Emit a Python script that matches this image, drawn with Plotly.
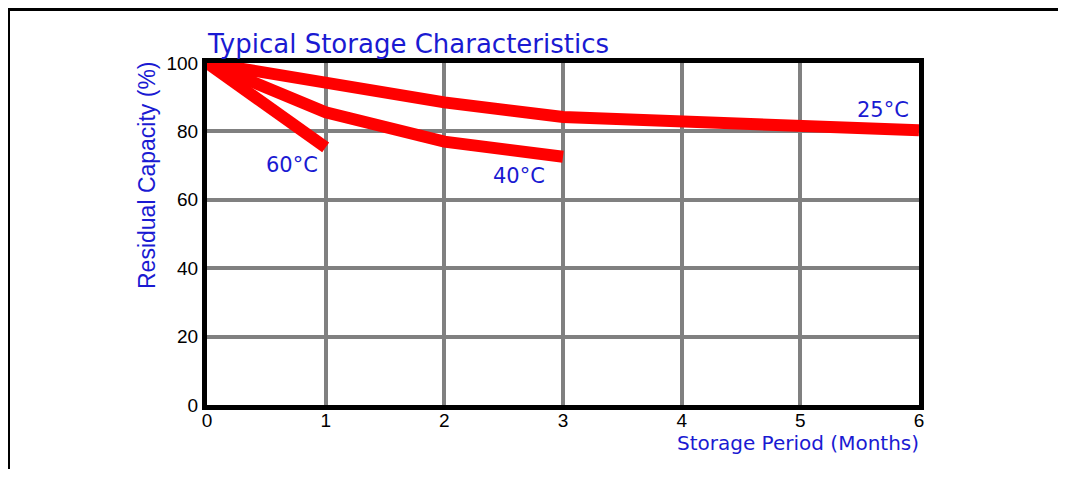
import plotly.graph_objects as go

months = [0, 1, 2, 3, 4, 5, 6]
cap_25 = [100, 94.2, 88.5, 84.2, 82.8, 81.4, 80.3]
months_40 = [0, 1, 2, 3]
cap_40 = [100, 85.6, 77.0, 72.6]
months_60 = [0, 1]
cap_60 = [100, 75.3]

x_ticks = [0, 1, 2, 3, 4, 5, 6]
y_ticks = [0, 20, 40, 60, 80, 100]

series_labels = ["25°C", "40°C", "60°C"]

title_text = "Typical Storage Characteristics"
x_title = "Storage Period (Months)"
y_title = "Residual Capacity (%)"

RED = "#ff0000"
BLUE = "#1a1ad2"
FONT = "DejaVu Sans"
TICKFONT = "Liberation Sans"

# page body has an 8px margin; work in reference pixel coords shifted by 8
OFF = 8
W, H = 1066 - 2 * OFF, 477 - 2 * OFF
L, T = 207 - OFF, 63 - OFF
R = W - (919 - OFF)
B = H - (405 - OFF)
pw, ph = W - L - R, H - T - B


def px(xp):
    return (xp - OFF - L) / pw


def py(yp):
    return (H - B - (yp - OFF)) / ph


fig = go.Figure()
for xs, ys in [(months, cap_25), (months_40, cap_40), (months_60, cap_60)]:
    fig.add_trace(go.Scatter(x=xs, y=ys, mode="lines",
                             line=dict(color=RED, width=12),
                             cliponaxis=False, hoverinfo="skip", showlegend=False))

annotations = [
    dict(x=6, y=cap_25[-1], xref="x", yref="y", text=series_labels[0], showarrow=False,
         xanchor="right", yanchor="middle", xshift=-8, yshift=20,
         font=dict(family=FONT, size=21, color=BLUE)),
    dict(x=3, y=cap_40[-1], xref="x", yref="y", text=series_labels[1], showarrow=False,
         xanchor="right", yanchor="middle", xshift=-16, yshift=-19,
         font=dict(family=FONT, size=21, color=BLUE)),
    dict(x=1, y=cap_60[-1], xref="x", yref="y", text=series_labels[2], showarrow=False,
         xanchor="right", yanchor="middle", xshift=-6, yshift=-18,
         font=dict(family=FONT, size=21, color=BLUE)),
    dict(x=px(205), y=py(44), xref="paper", yref="paper", text=title_text, showarrow=False,
         xanchor="left", yanchor="middle",
         font=dict(family=FONT, size=26, color=BLUE)),
    dict(x=px(921), y=py(443), xref="paper", yref="paper", text=x_title, showarrow=False,
         xanchor="right", yanchor="middle",
         font=dict(family=FONT, size=20, color=BLUE)),
    dict(x=px(147), y=py(175), xref="paper", yref="paper", text=y_title, showarrow=False,
         xanchor="center", yanchor="middle", textangle=-90,
         font=dict(family="Liberation Sans", size=23, color=BLUE)),
]

shapes = [
    dict(type="line", xref="paper", yref="paper", x0=px(6), x1=px(1080), y0=py(9), y1=py(9),
         line=dict(color="black", width=4)),
    dict(type="line", xref="paper", yref="paper", x0=px(8), x1=px(8), y0=py(7), y1=py(490),
         line=dict(color="black", width=4)),
]

axis_common = dict(showgrid=True, gridcolor="#808080", gridwidth=4,
                   showline=True, linecolor="black", linewidth=5, mirror=True,
                   zeroline=False, ticks="", layer="below traces",
                   tickfont=dict(family=TICKFONT, size=19, color="black"))

fig.update_layout(
    width=W, height=H,
    margin=dict(l=L, r=R, t=T, b=B),
    paper_bgcolor="white", plot_bgcolor="white",
    xaxis=dict(range=[0, 6], tickvals=x_ticks, ticktext=[str(v) for v in x_ticks],
               ticklabelstandoff=-6, **axis_common),
    yaxis=dict(range=[0, 100], tickvals=y_ticks, ticktext=[str(v) for v in y_ticks], **axis_common),
    annotations=annotations,
    shapes=shapes,
)

fig.write_html("out.html")
